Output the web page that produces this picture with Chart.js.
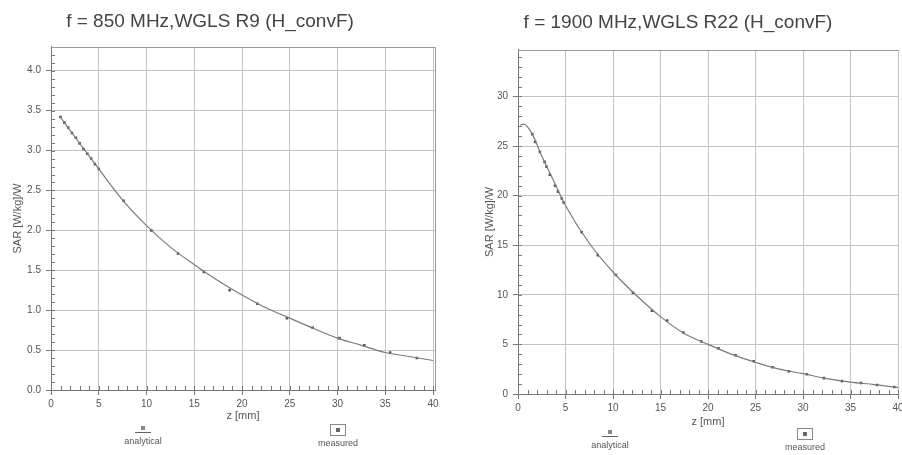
<!DOCTYPE html>
<html><head><meta charset="utf-8">
<script src="https://cdn.jsdelivr.net/npm/chart.js@4/dist/chart.umd.min.js"></script>
<style>
html,body{margin:0;padding:0;background:#fff;}
#wrap{position:relative;width:902px;height:455px;overflow:hidden;font-family:"Liberation Sans",Arial,sans-serif;background:#fff;}
.c{position:absolute;top:0;}
.leg{position:absolute;width:80px;margin-left:-40px;font-size:9px;color:#555;text-align:center;line-height:10px;}
.mA{display:block;margin:0 auto 2px auto;width:16px;height:10px;position:relative;}
.mA:before{content:"";position:absolute;left:6px;top:2px;width:4px;height:4px;background:#888;}
.mA:after{content:"";position:absolute;left:0;top:8px;width:16px;height:1px;background:#666;}
.mM{display:block;margin:0 auto 2px auto;width:14px;height:10px;border:1px solid #888;position:relative;}
.mM:before{content:"";position:absolute;left:5px;top:3px;width:4px;height:4px;background:#666;}
</style></head><body>
<div id="wrap">
 <div class="c" style="left:0;width:450px;height:455px"><canvas id="c1" width="450" height="455"></canvas></div>
 <div class="c" style="left:450px;width:452px;height:455px"><canvas id="c2" width="452" height="455"></canvas></div>
 <div class="leg" style="left:143px;top:424px"><span class="mA"></span><span id="l1a"></span></div>
 <div class="leg" style="left:338px;top:424px"><span class="mM"></span><span id="l1m"></span></div>
 <div class="leg" style="left:610px;top:428px"><span class="mA"></span><span id="l2a"></span></div>
 <div class="leg" style="left:805px;top:428px"><span class="mM"></span><span id="l2m"></span></div>
</div>
<script>
const leftTitle = 'f = 850 MHz,WGLS R9 (H_convF)';
const rightTitle = 'f = 1900 MHz,WGLS R22 (H_convF)';
const yAxisTitle = 'SAR [W/kg]/W';
const xAxisTitle = 'z [mm]';
const legendLabels = ['analytical', 'measured'];

const xTickValues = [0, 5, 10, 15, 20, 25, 30, 35, 40];
const leftYTickValues = [0.0, 0.5, 1.0, 1.5, 2.0, 2.5, 3.0, 3.5, 4.0];
const rightYTickValues = [0, 5, 10, 15, 20, 25, 30];

const leftAnalyticalZ   = [0.9, 2.5, 5, 7.5, 10, 12.5, 15, 17.5, 20, 22.5, 25, 27.5, 30, 32.5, 35, 37.5, 40];
const leftAnalyticalSAR = [3.43, 3.17, 2.77, 2.38, 2.06, 1.79, 1.57, 1.37, 1.19, 1.03, 0.90, 0.77, 0.65, 0.56, 0.47, 0.42, 0.37];
const leftMeasuredZ   = [1.0, 1.4, 1.8, 2.2, 2.6, 3.0, 3.4, 3.8, 4.2, 4.6, 5.0, 7.6, 10.5, 13.3, 16.0, 18.7, 21.6, 24.7, 27.4, 30.2, 32.8, 35.5, 38.3];
const leftMeasuredSAR = [3.42, 3.35, 3.29, 3.22, 3.16, 3.09, 3.02, 2.96, 2.90, 2.83, 2.77, 2.37, 2.00, 1.71, 1.48, 1.25, 1.08, 0.90, 0.78, 0.65, 0.56, 0.47, 0.40];

const rightAnalyticalZ   = [0.2, 0.6, 1.5, 2.5, 3.5, 5, 7.5, 10, 12.5, 15, 17.5, 20, 22.5, 25, 27.5, 30, 32.5, 35, 37.5, 40];
const rightAnalyticalSAR = [27.1, 27.2, 26.2, 24.0, 22.0, 19.0, 15.2, 12.3, 9.9, 7.8, 6.1, 5.0, 4.0, 3.2, 2.5, 2.05, 1.55, 1.2, 0.95, 0.65];
const rightMeasuredZ   = [1.5, 1.8, 2.3, 2.8, 3.0, 3.35, 3.9, 4.2, 4.6, 4.8, 6.7, 8.4, 10.3, 12.1, 14.1, 15.7, 17.4, 19.3, 21.1, 22.9, 24.8, 26.8, 28.5, 30.4, 32.2, 34.1, 36.1, 37.8, 39.6];
const rightMeasuredSAR = [26.2, 25.4, 24.4, 23.4, 22.9, 22.1, 21.0, 20.4, 19.7, 19.3, 16.3, 14.0, 12.0, 10.2, 8.4, 7.4, 6.2, 5.3, 4.6, 3.9, 3.3, 2.7, 2.3, 2.0, 1.6, 1.3, 1.1, 0.9, 0.7];

document.getElementById('l1a').textContent = legendLabels[0];
document.getElementById('l1m').textContent = legendLabels[1];
document.getElementById('l2a').textContent = legendLabels[0];
document.getElementById('l2m').textContent = legendLabels[1];

const pts = (xs, ys) => xs.map((x, i) => ({x: x, y: ys[i]}));

const frame = {
  id: 'frame',
  afterDraw(chart, args, o) {
    const {ctx, chartArea: a, scales} = chart;
    ctx.save();
    ctx.strokeStyle = '#777';
    ctx.lineWidth = 1;
    ctx.beginPath();
    for (let z = 1; z <= 40; z++) {
      const px = Math.round(scales.x.getPixelForValue(z)) + 0.5;
      ctx.moveTo(px, a.bottom); ctx.lineTo(px, a.bottom - 4);
    }
    for (let v = o.minorStep; v <= o.yMaxMinor + 1e-9; v += o.minorStep) {
      const py = Math.round(scales.y.getPixelForValue(v)) + 0.5;
      ctx.moveTo(a.left, py); ctx.lineTo(a.left + 4, py);
    }
    ctx.stroke();
    ctx.strokeStyle = '#999';
    ctx.beginPath();
    ctx.moveTo(a.left, Math.round(a.top) + 0.5);
    ctx.lineTo(Math.round(a.right) + 0.5, Math.round(a.top) + 0.5);
    if (o.rightBorder) ctx.lineTo(Math.round(a.right) + 0.5, a.bottom);
    ctx.stroke();
    ctx.restore();
  }
};

function makeChart(id, cfg) {
  return new Chart(document.getElementById(id), {
    type: 'line',
    data: {
      datasets: [
        {label: legendLabels[0], data: pts(cfg.aZ, cfg.aV), borderColor: '#7a7a7a', borderWidth: 1.2,
         pointRadius: 0, tension: 0.4, cubicInterpolationMode: 'monotone', fill: false},
        {label: legendLabels[1], data: pts(cfg.mZ, cfg.mV), showLine: false, pointStyle: 'rect',
         pointRadius: 1.8, backgroundColor: '#555', borderColor: '#555', borderWidth: 0}
      ]
    },
    options: {
      responsive: false, animation: false,
      layout: {padding: cfg.pad},
      plugins: {
        legend: {display: false}, tooltip: {enabled: false},
        title: {display: true, text: cfg.title, color: '#444',
          font: {family: '"Liberation Sans", Arial, sans-serif', size: 19, weight: 'normal'},
          padding: cfg.titlePad},
        frame: cfg.frame
      },
      scales: {
        x: {
          type: 'linear', min: 0, max: cfg.xMax,
          afterBuildTicks: s => { s.ticks = xTickValues.map(v => ({value: v})); },
          afterFit: s => { s.height = cfg.xH; s.paddingLeft = 0; s.paddingRight = 0; },
          ticks: {color: '#555', font: {size: 10, family: '"Liberation Sans", Arial, sans-serif'}, padding: 3,
            callback: v => String(v), maxRotation: 0, autoSkip: false},
          grid: {color: '#c4c4c4', lineWidth: 1, tickLength: 5, tickColor: '#777'},
          border: {color: '#777', width: 1},
          title: {display: true, text: xAxisTitle, color: '#555',
            font: {size: 11, family: '"Liberation Sans", Arial, sans-serif'}, padding: {top: 2, bottom: 4}}
        },
        y: {
          type: 'linear', min: 0, max: cfg.yMax,
          afterBuildTicks: s => { s.ticks = cfg.yTicks.map(v => ({value: v})); },
          afterFit: s => { s.width = cfg.yW; s.paddingTop = 0; s.paddingBottom = 0; },
          ticks: {color: '#555', font: {size: 10, family: '"Liberation Sans", Arial, sans-serif'}, padding: 5,
            callback: v => cfg.fmt(v), autoSkip: false},
          grid: {color: '#c4c4c4', lineWidth: 1, tickLength: 5, tickColor: '#777'},
          border: {color: '#777', width: 1},
          title: {display: true, text: yAxisTitle, color: '#555',
            font: {size: 11, family: '"Liberation Sans", Arial, sans-serif'}, padding: {top: cfg.yTitleOff, bottom: 4}}
        }
      }
    },
    plugins: [frame]
  });
}

makeChart('c1', {
  title: leftTitle, aZ: leftAnalyticalZ, aV: leftAnalyticalSAR, mZ: leftMeasuredZ, mV: leftMeasuredSAR,
  xMax: 40.2, yMax: 4.3, yTicks: leftYTickValues, fmt: v => v.toFixed(1),
  pad: {left: -15, right: 15, top: 0, bottom: 28}, titlePad: {top: 10, bottom: 14},
  yW: 66, xH: 37, yTitleOff: 26,
  frame: {minorStep: 0.1, yMaxMinor: 4.2, rightBorder: true}
});
makeChart('c2', {
  title: rightTitle, aZ: rightAnalyticalZ, aV: rightAnalyticalSAR, mZ: rightMeasuredZ, mV: rightMeasuredSAR,
  xMax: 40, yMax: 34.7, yTicks: rightYTickValues, fmt: v => String(v),
  pad: {left: 6, right: 2, top: 0, bottom: 22}, titlePad: {top: 11, bottom: 16},
  yW: 62, xH: 39, yTitleOff: 27,
  frame: {minorStep: 1, yMaxMinor: 34, rightBorder: false}
});
</script>
</body></html>
